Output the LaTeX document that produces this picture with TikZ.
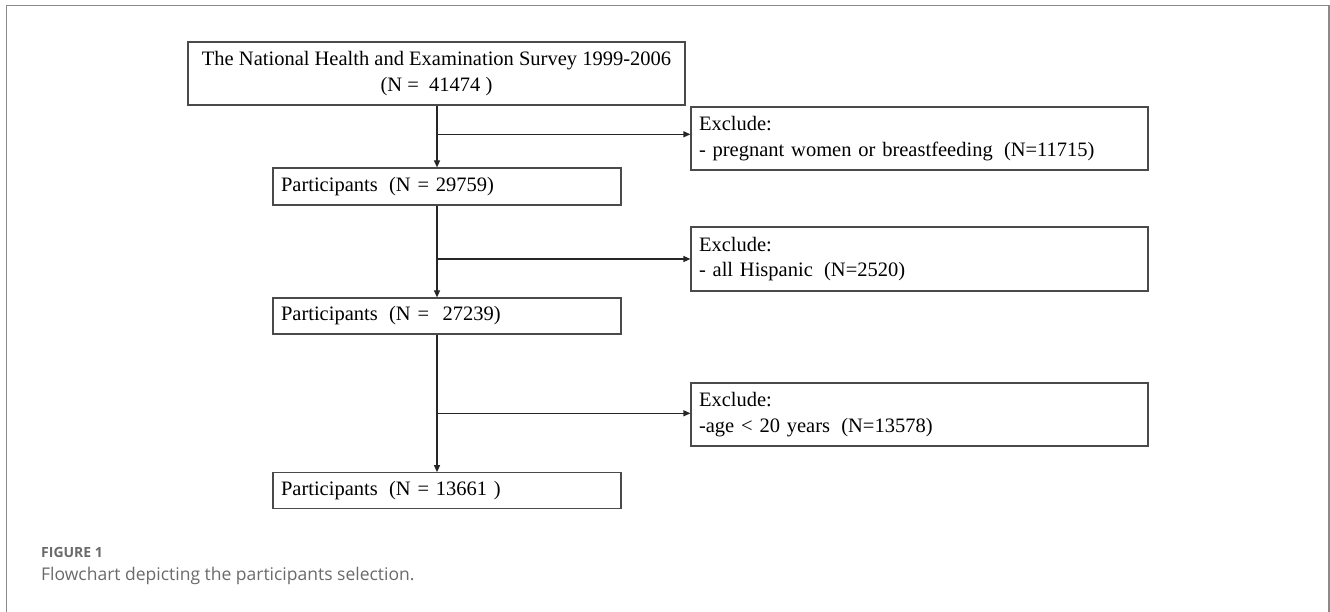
\documentclass[tikz,border=0pt]{standalone}
\usepackage{fontspec}
\setmainfont{Liberation Serif}
\newfontfamily\capfont{Open Sans}
\usetikzlibrary{arrows.meta,calc}
\definecolor{framegray}{HTML}{8A8A8A}
\definecolor{boxgray}{HTML}{4A4A4A}
\definecolor{capgray}{HTML}{6A6A6A}
\tikzset{
  box/.style={draw=boxgray, line width=1.2pt, rectangle, inner sep=0pt,
              font=\fontsize{20.5}{25.5}\selectfont},
  lbox/.style={box, text width=#1, align=left, inner xsep=8pt},
  arr/.style={draw=black!85, line width=1.2pt, -{Triangle[length=7pt,width=6pt]}}
}
\newcommand{\pgap}{\hspace*{0.55em}}
\begin{document}
\begin{tikzpicture}[x=1pt,y=-1pt]
\useasboundingbox (0,0) rectangle (1330,612);
% outer frame
\draw[framegray, line width=1.5pt] (6.5,620) -- (6.5,5.5) -- (1329,5.5) -- (1329,620);
% main boxes
\node[box, minimum width=497pt, minimum height=63pt, align=center] (top) at (436.5,73.5)
  {The National Health and Examination Survey 1999-2006\\(N =\ \ 41474 )};
\node[lbox=332pt, minimum height=37pt] (p1) at (447,186.5) {Participants\pgap(N = 29759)};
\node[lbox=332pt, minimum height=36pt] (p2) at (447,316) {Participants\pgap(N =\ \ 27239)};
\node[lbox=332pt, minimum height=35.5pt] (p3) at (447,490.5) {Participants\pgap(N = 13661 )};
% exclusion boxes
\node[lbox=441pt, minimum height=63pt] (e1) at (919.5,138.5) {Exclude:\\- pregnant women or breastfeeding\pgap(N=11715)};
\node[lbox=441pt, minimum height=64pt] (e2) at (919.5,259) {Exclude:\\- all Hispanic\pgap(N=2520)};
\node[lbox=441pt, minimum height=63pt] (e3) at (919.5,414.5) {Exclude:\\-age < 20 years\pgap(N=13578)};
% junctions
\coordinate (j1) at (437,134.3);
\coordinate (j2) at (437,259);
\coordinate (j3) at (437,413.3);
% connectors
\draw[arr] (top.south -| j1) -- (j1 |- p1.north);
\draw[arr] (j1) -- (j1 -| e1.west);
\draw[arr] (p1.south -| j2) -- (j2 |- p2.north);
\draw[arr] (j2) -- (j2 -| e2.west);
\draw[arr] (p2.south -| j3) -- (j3 |- p3.north);
\draw[arr] (j3) -- (j3 -| e3.west);
% caption
\node[anchor=base west, inner sep=0pt, text=capgray, font=\capfont\fontsize{14}{17}\selectfont\bfseries] (fig) at (41,557) {FIGURE 1};
\node[anchor=base west, inner sep=0pt, text=capgray, font=\capfont\fontsize{17.5}{21}\selectfont] (cap) at (41,580) {Flowchart depicting the participants selection.};
\end{tikzpicture}
\end{document}
